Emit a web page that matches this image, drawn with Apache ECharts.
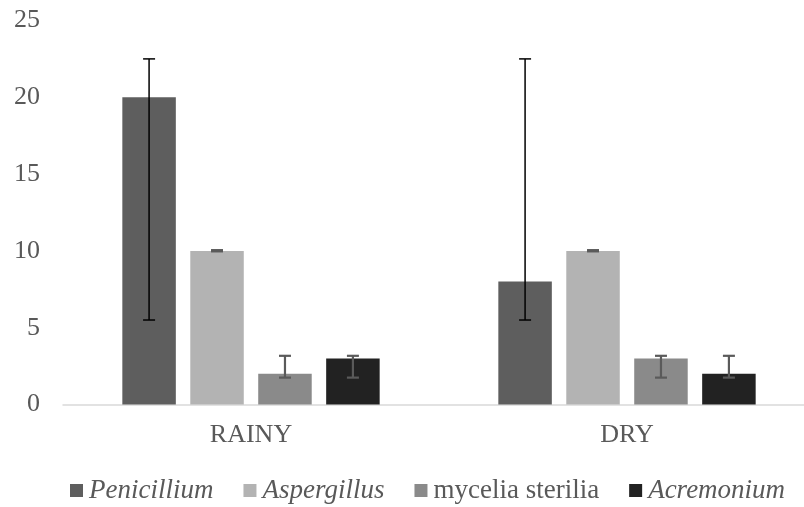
<!DOCTYPE html>
<html>
<head>
<meta charset="utf-8">
<script src="https://cdn.jsdelivr.net/npm/echarts@6/dist/echarts.min.js"></script>
<style>
html,body{margin:0;padding:0;background:#fff;overflow:hidden;width:804px;height:507px;}
#c{width:815px;height:507px;}
</style>
</head>
<body>
<div id="c"></div>
<script>
var categories = ['RAINY', 'DRY'];
var seriesNames = ['Penicillium', 'Aspergillus', 'mycelia sterilia', 'Acremonium'];
var italicNames = ['Penicillium', 'Aspergillus', 'Acremonium'];
var penicillium = [20, 8];
var aspergillus = [10, 10];
var mycelia = [2, 3];
var acremonium = [3, 2];
var penicilliumErrLow = [5.5, 5.5];
var penicilliumErrHigh = [22.5, 22.5];
var aspergillusErrLow = [9.97, 9.97];
var aspergillusErrHigh = [10.05, 10.05];
var myceliaErrLow = [1.75, 1.75];
var myceliaErrHigh = [3.17, 3.17];
var acremoniumErrLow = [1.75, 1.75];
var acremoniumErrHigh = [3.17, 3.17];
var yTicks = [0, 5, 10, 15, 20, 25];

var colors = ['#5e5e5e', '#b3b3b3', '#8a8a8a', '#222222'];
var errColors = ['#000000', '#5a5a5a', '#5a5a5a', '#5a5a5a'];
var errWidths = [1.5, 2.2, 2.2, 2.2];
var values = [penicillium, aspergillus, mycelia, acremonium];
var lows = [penicilliumErrLow, aspergillusErrLow, myceliaErrLow, acremoniumErrLow];
var highs = [penicilliumErrHigh, aspergillusErrHigh, myceliaErrHigh, acremoniumErrHigh];

var BAR_W = 53.5;
var GAP = 0.27;
var FONT = '"Liberation Serif", "Times New Roman", serif';

var errData = [];
for (var s = 0; s < 4; s++) {
  for (var c = 0; c < categories.length; c++) {
    errData.push([c, lows[s][c], highs[s][c], s]);
  }
}

var series = [];
for (var k = 0; k < 4; k++) {
  series.push({
    name: seriesNames[k],
    type: 'bar',
    data: values[k],
    barWidth: BAR_W,
    barGap: (GAP * 100) + '%',
    itemStyle: { color: colors[k] },
    silent: true
  });
}
series.push({
  type: 'custom',
  name: 'err',
  data: errData,
  encode: { x: 0, y: [1, 2] },
  z: 10,
  silent: true,
  renderItem: function (params, api) {
    var ci = api.value(0);
    var si = api.value(3);
    var lo = api.coord([ci, api.value(1)]);
    var hi = api.coord([ci, api.value(2)]);
    var pitch = BAR_W * (1 + GAP);
    var x = lo[0] + (si - 1.5) * pitch;
    var cap = 6;
    var st = { stroke: errColors[si], lineWidth: errWidths[si], fill: null };
    return {
      type: 'group',
      children: [
        { type: 'line', shape: { x1: x, y1: lo[1], x2: x, y2: hi[1] }, style: st },
        { type: 'line', shape: { x1: x - cap, y1: lo[1], x2: x + cap, y2: lo[1] }, style: st },
        { type: 'line', shape: { x1: x - cap, y1: hi[1], x2: x + cap, y2: hi[1] }, style: st }
      ]
    };
  }
});

var chart = echarts.init(document.getElementById('c'), null, { renderer: 'canvas' });
chart.setOption({
  animation: false,
  backgroundColor: '#ffffff',
  grid: { left: 63, top: 20.5, right: 0, height: 384, containLabel: false },
  xAxis: {
    type: 'category',
    data: categories,
    axisTick: { show: false },
    axisLine: { lineStyle: { color: '#d9d9d9', width: 1.5 } },
    axisLabel: { fontFamily: FONT, fontSize: 26, color: '#595959', margin: 18 }
  },
  yAxis: {
    type: 'value',
    min: yTicks[0],
    max: yTicks[yTicks.length - 1],
    interval: yTicks[1] - yTicks[0],
    splitLine: { show: false },
    axisLine: { show: false },
    axisTick: { show: false },
    axisLabel: { fontFamily: FONT, fontSize: 26, color: '#595959', margin: 23 }
  },
  legend: {
    data: seriesNames,
    left: 70,
    top: 477,
    padding: 0,
    icon: 'rect',
    itemWidth: 13,
    itemHeight: 13,
    itemGap: 30,
    selectedMode: false,
    formatter: function (name) {
      return italicNames.indexOf(name) >= 0 ? '{i|' + name + '}' : '{n|' + name + '}';
    },
    textStyle: {
      fontFamily: FONT,
      fontSize: 27,
      color: '#595959',
      padding: [0, 0, 0, 1],
      rich: {
        i: { fontFamily: FONT, fontSize: 27, fontStyle: 'italic', color: '#595959' },
        n: { fontFamily: FONT, fontSize: 27, color: '#595959' }
      }
    }
  },
  series: series
});
</script>
</body>
</html>
